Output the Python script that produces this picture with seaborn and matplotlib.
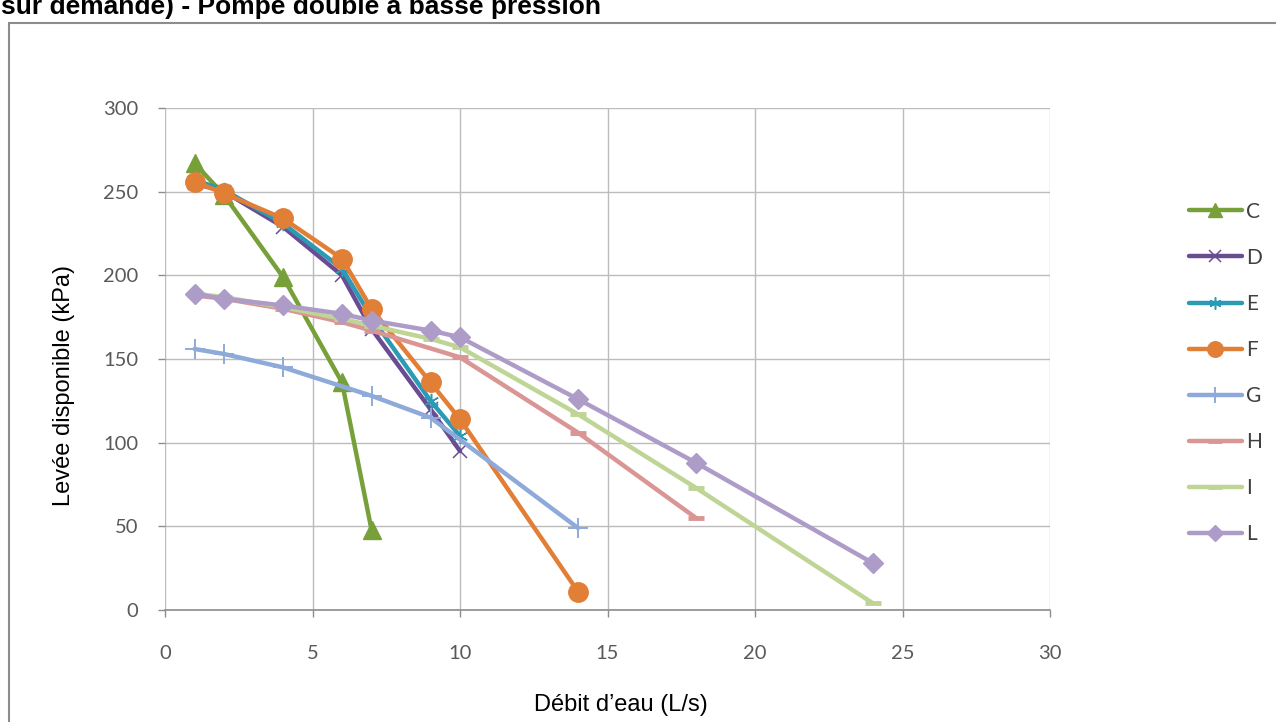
import matplotlib
matplotlib.use("Agg")
import matplotlib.pyplot as plt
from matplotlib.lines import Line2D
import seaborn as sns

# courbes pompe double basse pression : débit (L/s) -> levée disponible (kPa)
series_names = ["C", "D", "E", "F", "G", "H", "I", "L"]

c_x = [1, 2, 4, 6, 7]
c_y = [267, 248, 199, 136, 48]
d_x = [1, 2, 4, 6, 7, 9, 10]
d_y = [255, 250, 229, 200, 168, 120, 95]
e_x = [1, 2, 4, 6, 7, 9, 10]
e_y = [257, 251, 231, 204, 175, 125, 104]
f_x = [1, 2, 4, 6, 7, 9, 10, 14]
f_y = [256, 249, 234, 210, 180, 136, 114, 11]
g_x = [1, 2, 4, 7, 9, 14]
g_y = [156, 153, 145, 128, 115, 49]
h_x = [1, 2, 4, 6, 7, 10, 14, 18]
h_y = [188, 186, 180, 172, 167, 151, 106, 55]
i_x = [1, 2, 4, 6, 7, 9, 10, 14, 18, 24]
i_y = [189, 187, 181, 174, 170, 162, 157, 117, 73, 4]
l_x = [1, 2, 4, 6, 7, 9, 10, 14, 18, 24]
l_y = [189, 186, 182, 177, 173, 167, 163, 126, 88, 28]

x_ticks = [0, 5, 10, 15, 20, 25, 30]
y_ticks = [0, 50, 100, 150, 200, 250, 300]

sns.set_theme(style="white")
plt.rcParams["font.family"] = ["Liberation Sans", "DejaVu Sans"]

fig = plt.figure(figsize=(12.76, 7.22), dpi=100)
ax = fig.add_axes([165 / 1276, 1 - 610 / 722, 885 / 1276, 502 / 722])

styles = {
    "C": dict(color="#77A03A", marker="^", markersize=13, markeredgewidth=1),
    "D": dict(color="#6A4C93", marker="x", markersize=10, markeredgewidth=1.1),
    "E": dict(color="#2C9AB5", marker=(6, 2, 0), markersize=11, markeredgewidth=1.1),
    "F": dict(color="#E27F36", marker="o", markersize=14, markeredgewidth=1),
    "G": dict(color="#8EAADB", marker="+", markersize=14, markeredgewidth=1.4),
    "H": dict(color="#D99694", marker="_", markersize=12, markeredgewidth=3.5),
    "I": dict(color="#BED595", marker="_", markersize=12, markeredgewidth=3.5),
    "L": dict(color="#AE9CC8", marker="D", markersize=10, markeredgewidth=1),
}
data = {"C": (c_x, c_y), "D": (d_x, d_y), "E": (e_x, e_y), "F": (f_x, f_y),
        "G": (g_x, g_y), "H": (h_x, h_y), "I": (i_x, i_y), "L": (l_x, l_y)}

for name in series_names:
    xs, ys = data[name]
    st = styles[name]
    sns.lineplot(x=xs, y=ys, ax=ax, color=st["color"], marker=st["marker"],
                 markersize=st["markersize"], markeredgecolor=st["color"],
                 markeredgewidth=st["markeredgewidth"], linewidth=3.2,
                 label=name, clip_on=False, zorder=3)

ax.set_xlim(0, 30)
ax.set_ylim(0, 300)
ax.set_xticks(x_ticks)
ax.set_yticks(y_ticks)
ax.grid(True, color="#bcbcbc", linewidth=1)
for side in ["top", "right", "left"]:
    ax.spines[side].set_visible(False)
ax.spines["bottom"].set_color("#8c8c8c")
ax.spines["bottom"].set_linewidth(1.2)
ax.tick_params(axis="both", length=5, width=1, color="#8c8c8c",
               labelsize=14.5, labelcolor="#595959")
ax.tick_params(axis="x", direction="out", bottom=True, pad=20)
ax.tick_params(axis="y", direction="out", left=True, pad=14)
for lab in ax.get_xticklabels() + ax.get_yticklabels():
    lab.set_family(["Lato", "DejaVu Sans"])
ax.set_xlabel("")
ax.set_ylabel("")

fig.text(621 / 1276, 1 - 705 / 722, "Débit d’eau (L/s)", ha="center", va="center",
         fontsize=17, color="black")
fig.text(64 / 1276, 1 - 385 / 722, "Levée disponible (kPa)", ha="center", va="center",
         rotation=90, fontsize=17, color="black")

fig.text(0.001, 1 - 14 / 722, "sur demande) - Pompe double à basse pression",
         ha="left", va="baseline", fontsize=19, fontweight="bold", color="black")

# cadre du graphique
fig.add_artist(Line2D([9 / 1276, 9 / 1276], [0, 1 - 23 / 722], color="#8c8c8c",
                      lw=1.5, transform=fig.transFigure))
fig.add_artist(Line2D([9 / 1276, 1], [1 - 23 / 722, 1 - 23 / 722], color="#8c8c8c",
                      lw=1.5, transform=fig.transFigure))

leg = ax.legend(loc="upper left", bbox_to_anchor=(1170 / 1276, 1 - 183 / 722),
                bbox_transform=fig.transFigure, frameon=False, fontsize=15,
                handlelength=2.55, handletextpad=0.2, labelspacing=1.25,
                markerscale=0.8)
for t in leg.get_texts():
    t.set_color("#404040")
    t.set_family(["Lato", "DejaVu Sans"])

fig.savefig("out.png", dpi=100)
